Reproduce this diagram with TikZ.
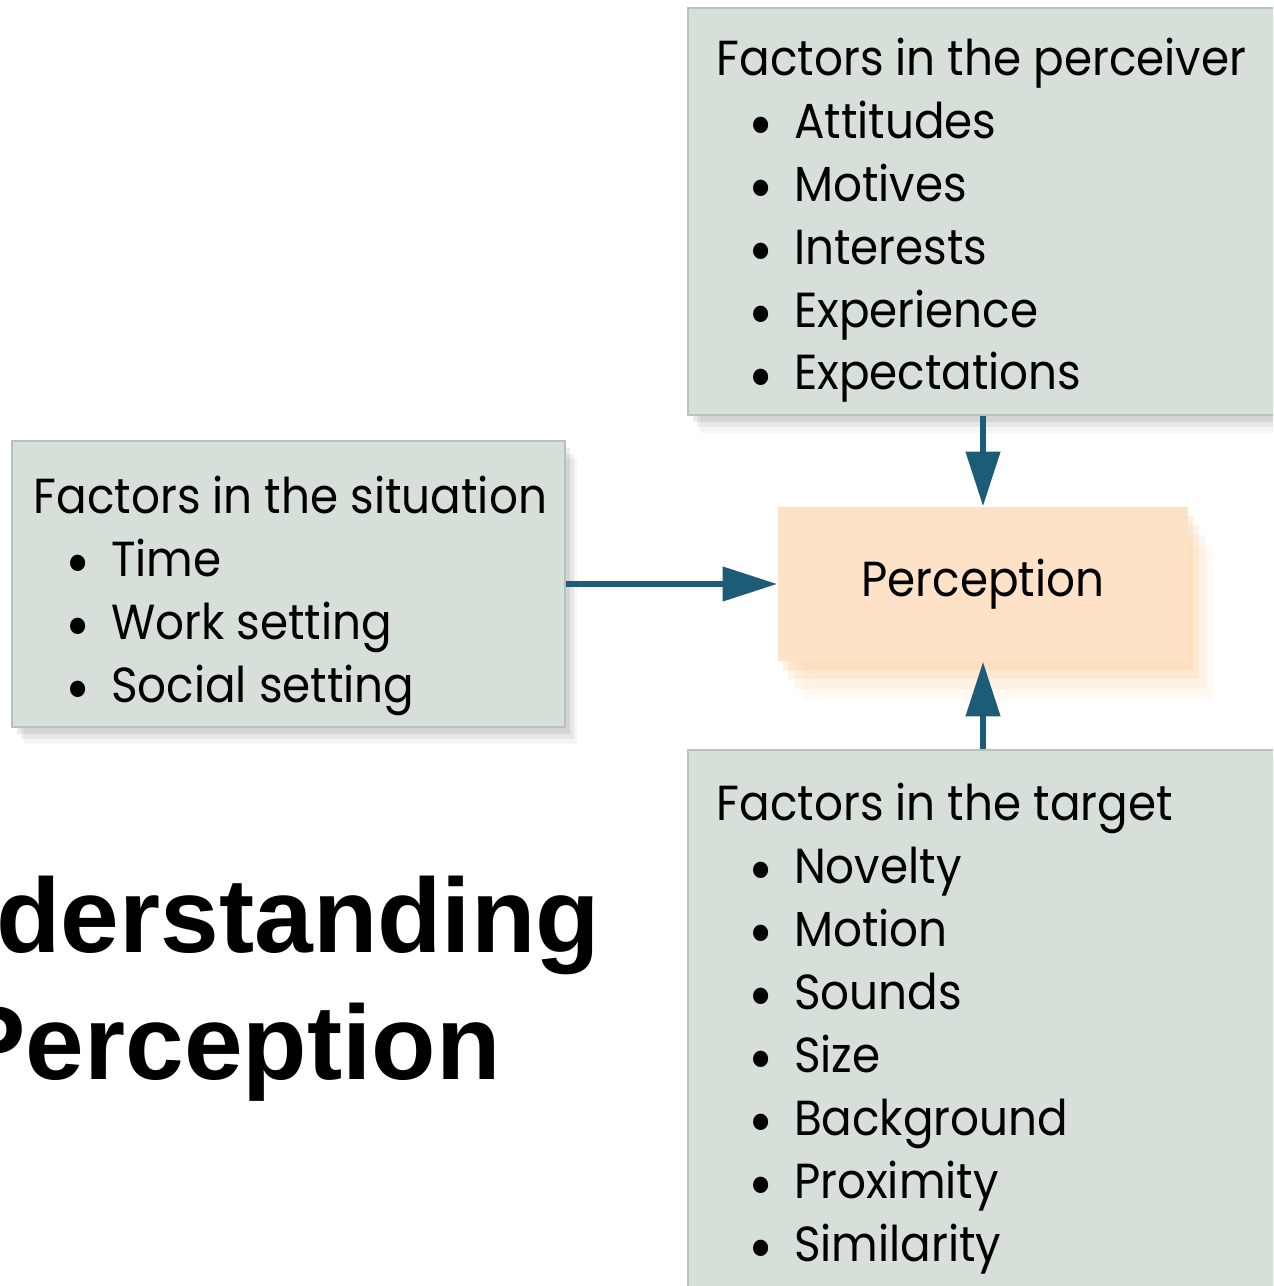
\documentclass[tikz,border=0pt]{standalone}
\usepackage{fontspec}
\setmainfont[FakeStretch=0.92]{Poppins}
\newfontfamily\titlefont{Liberation Sans}
\usepackage{xcolor}
\usetikzlibrary{calc, positioning, shadows, arrows.meta}

\definecolor{boxgreen}{RGB}{214,224,216}
\definecolor{boxline}{RGB}{182,194,186}
\definecolor{peach}{RGB}{253,226,199}
\definecolor{glow}{RGB}{250,186,120}
\definecolor{arrowteal}{RGB}{28,92,118}

% bullet line inside a factor list
\newcommand{\itm}[1]{\hspace*{9pt}\makebox[13pt][l]{\raisebox{-0.35ex}{\scalebox{1.35}{\textbullet}}}#1}

\tikzset{
    factorbox/.style={rectangle, draw=boxline, line width=0.6pt, fill=boxgreen,
        drop shadow={shadow xshift=1.5pt, shadow yshift=-2pt, fill=black, opacity=0.08},
        drop shadow={shadow xshift=2.5pt, shadow yshift=-3.5pt, fill=black, opacity=0.06},
        drop shadow={shadow xshift=3.5pt, shadow yshift=-5pt, fill=black, opacity=0.04}},
    perceptbox/.style={rectangle, fill=peach, inner sep=0pt,
        minimum width=4.10cm, minimum height=1.54cm,
        drop shadow={shadow xshift=7pt, shadow yshift=-11pt, fill=glow, opacity=0.08},
        drop shadow={shadow xshift=5pt, shadow yshift=-8pt, fill=glow, opacity=0.12},
        drop shadow={shadow xshift=3pt, shadow yshift=-5pt, fill=glow, opacity=0.18},
        drop shadow={shadow xshift=1.5pt, shadow yshift=-2.5pt, fill=glow, opacity=0.22}},
    listtext/.style={align=left, inner sep=0pt,
        font=\fontsize{14}{17.9}\selectfont},
    flow/.style={draw=arrowteal, line width=1.7pt,
        -{Triangle[length=15.5pt, width=9.5pt]}},
}

\begin{document}
\begin{tikzpicture}[x=0.01cm, y=-0.01cm]

    % =================================================================
    % 1. PAGE FRAME
    % =================================================================
    \useasboundingbox (0,0) rectangle (1273,1286);
    \clip (0,0) rectangle (1273,1286);

    % =================================================================
    % 2. THE FOUR BOXES
    % =================================================================
    \node[factorbox, minimum width=6.02cm, minimum height=4.07cm] (perceiver) at (989,211.5) {};
    \node[factorbox, minimum width=5.53cm, minimum height=2.85cm] (situation) at (288.5,584) {};
    \node[factorbox, minimum width=6.02cm, minimum height=5.50cm] (target) at (989,1025) {};
    \node[perceptbox, font=\fontsize{14}{17.9}\selectfont] (perception) at (983,584) {Perception};

    % =================================================================
    % 3. LISTS OF FACTORS (anchored on the baseline of the last line)
    % =================================================================
    \node[listtext, anchor=base west] (perceiver text) at (716,390)
        {Factors in the perceiver\\\itm{Attitudes}\\\itm{Motives}\\\itm{Interests}\\\itm{Experience}\\\itm{Expectations}};
    \node[listtext, anchor=base west] (situation text) at (33,702)
        {Factors in the situation\\\itm{Time}\\\itm{Work setting}\\\itm{Social setting}};
    \node[listtext, anchor=base west] (target text) at (716,1261)
        {Factors in the target\\\itm{Novelty}\\\itm{Motion}\\\itm{Sounds}\\\itm{Size}\\\itm{Background}\\\itm{Proximity}\\\itm{Similarity}};

    % =================================================================
    % 4. ARROWS INTO PERCEPTION
    % =================================================================
    \draw[flow] (perception.north |- perceiver.south) -- (perception.north);
    \draw[flow] (situation.east) -- (perception.west);
    \draw[flow] (perception.south |- target.north) -- (perception.south);

    % =================================================================
    % 5. SLIDE TITLE
    % =================================================================
    \node[align=center, inner sep=0pt, anchor=base,
          font=\titlefont\bfseries\fontsize{30}{36.1}\selectfont] (title) at (228,1079)
        {Understanding\\Perception};

\end{tikzpicture}
\end{document}
